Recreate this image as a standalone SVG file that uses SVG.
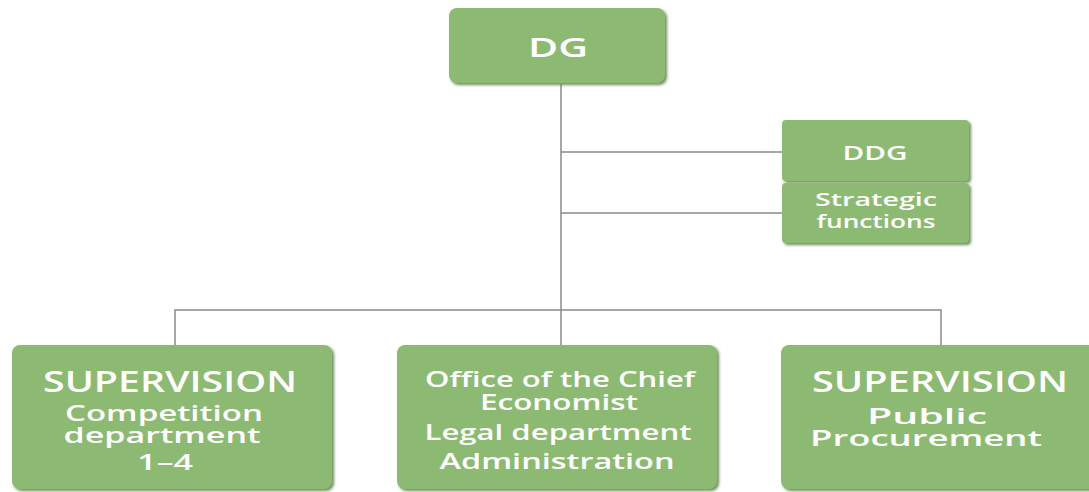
<svg xmlns="http://www.w3.org/2000/svg" width="1089" height="492" viewBox="0 0 1089 492">
<defs>
<filter id="sh" x="-5%" y="-5%" width="115%" height="120%">
<feGaussianBlur in="SourceAlpha" stdDeviation="1.5"/>
<feOffset dx="2" dy="2" result="b"/>
<feFlood flood-color="#5c7f48" flood-opacity="0.9"/>
<feComposite in2="b" operator="in"/>
<feMerge><feMergeNode/><feMergeNode in="SourceGraphic"/></feMerge>
</filter>
</defs>
<style>
.box{fill:#8dba73;filter:url(#sh)}
.t{fill:#ffffff;font-family:"Open Sans","Liberation Sans",sans-serif;font-weight:600;text-anchor:middle}
.c{stroke:#8a8a8a;stroke-width:1.5;fill:none}
</style>
<g id="connectors">
<path class="c" d="M561 84V310M561 152H782M561 213H782M175 345V310H941V345M561 310V345"/>
</g>
<g id="dg">
<rect class="box" x="449" y="8" width="216" height="75" rx="8"/>
<text class="t" x="558" y="57" font-size="27" textLength="60" lengthAdjust="spacingAndGlyphs">DG</text>
</g>
<g id="ddg">
<rect class="box" x="782" y="120" width="187" height="61" rx="4"/>
<text class="t" x="875" y="160" font-size="19" textLength="65" lengthAdjust="spacingAndGlyphs">DDG</text>
</g>
<g id="strategic">
<rect class="box" x="782" y="183" width="187" height="60" rx="4"/>
<text class="t" font-size="18"><tspan x="876" y="206" textLength="122" lengthAdjust="spacingAndGlyphs">Strategic</tspan><tspan x="876" y="228" textLength="119" lengthAdjust="spacingAndGlyphs">functions</tspan></text>
</g>
<g id="competition">
<rect class="box" x="12" y="345" width="320" height="144" rx="8"/>
<text class="t" font-size="28"><tspan x="170" y="392" textLength="254" lengthAdjust="spacingAndGlyphs">SUPERVISION</tspan></text>
<text class="t" font-size="21"><tspan x="164" y="421" textLength="198" lengthAdjust="spacingAndGlyphs">Competition</tspan><tspan x="162" y="443" textLength="197" lengthAdjust="spacingAndGlyphs">department</tspan><tspan x="165" y="470" textLength="56" lengthAdjust="spacingAndGlyphs">1–4</tspan></text>
</g>
<g id="office">
<rect class="box" x="397" y="345" width="320" height="144" rx="8"/>
<text class="t" font-size="21"><tspan x="560" y="387" textLength="270" lengthAdjust="spacingAndGlyphs">Office of the Chief</tspan><tspan x="559" y="410" textLength="158" lengthAdjust="spacingAndGlyphs">Economist</tspan><tspan x="558" y="440" textLength="267" lengthAdjust="spacingAndGlyphs">Legal department</tspan><tspan x="557" y="469" textLength="235" lengthAdjust="spacingAndGlyphs">Administration</tspan></text>
</g>
<g id="procurement">
<rect class="box" x="781" y="345" width="320" height="144" rx="8"/>
<text class="t" font-size="28"><tspan x="940" y="392" textLength="256" lengthAdjust="spacingAndGlyphs">SUPERVISION</tspan></text>
<text class="t" font-size="21"><tspan x="927" y="424" textLength="120" lengthAdjust="spacingAndGlyphs">Public</tspan><tspan x="926" y="446" textLength="232" lengthAdjust="spacingAndGlyphs">Procurement</tspan></text>
</g>
</svg>
